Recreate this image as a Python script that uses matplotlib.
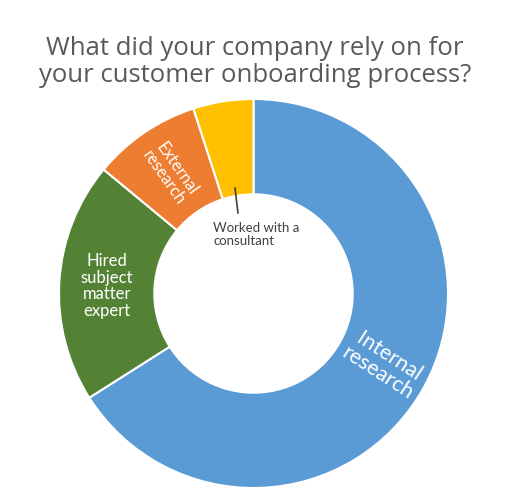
import numpy as np
import matplotlib.pyplot as plt

plt.rcParams['font.family'] = ['Lato', 'DejaVu Sans']

categories = ['Internal research', 'Hired subject matter expert', 'External research', 'Worked with a consultant']
shares = [66, 20, 9, 5]
colors = ['#5B9BD5', '#548235', '#ED7D31', '#FFC000']

W, H = 510, 497
cx, cy, R = 253.5, 293.5, 194.5

fig = plt.figure(figsize=(W / 100, H / 100), dpi=100)
ax = fig.add_axes([(cx - R) / W, (H - cy - R) / H, 2 * R / W, 2 * R / H])

ax.pie(shares, colors=colors, startangle=90, counterclock=False, radius=1.0,
       wedgeprops=dict(width=0.49, edgecolor='white', linewidth=1.5))
ax.set_xlim(-1, 1)
ax.set_ylim(-1, 1)
ax.set_aspect('equal')
ax.axis('off')

# labels inside the ring
ax.text(0.666, -0.368, 'Internal\nresearch', color='white', fontsize=15.5,
        rotation=-33, ha='center', va='center', linespacing=1.0)
ax.text(-0.753, 0.039, 'Hired\nsubject\nmatter\nexpert', color='white', fontsize=12,
        ha='center', va='center', linespacing=1.05)
ax.text(-0.429, 0.620, 'External\nresearch', color='white', fontsize=12,
        rotation=-55, ha='center', va='center', linespacing=1.0)

# consultant slice gets a leader line
ax.plot([-0.095, -0.080], [0.542, 0.414], color='#404040', linewidth=1.2)
ax.text(-0.208, 0.368, 'Worked with a\nconsultant', color='#404040', fontsize=9.5,
        ha='left', va='top', linespacing=1.1)

fig.text(0.5, 1 - 62 / H, 'What did your company rely on for\nyour customer onboarding process?',
         ha='center', va='center', fontsize=18.5, color='#595959', linespacing=1.12,
         family=['Open Sans', 'DejaVu Sans'])

fig.savefig('out.png', dpi=100)
